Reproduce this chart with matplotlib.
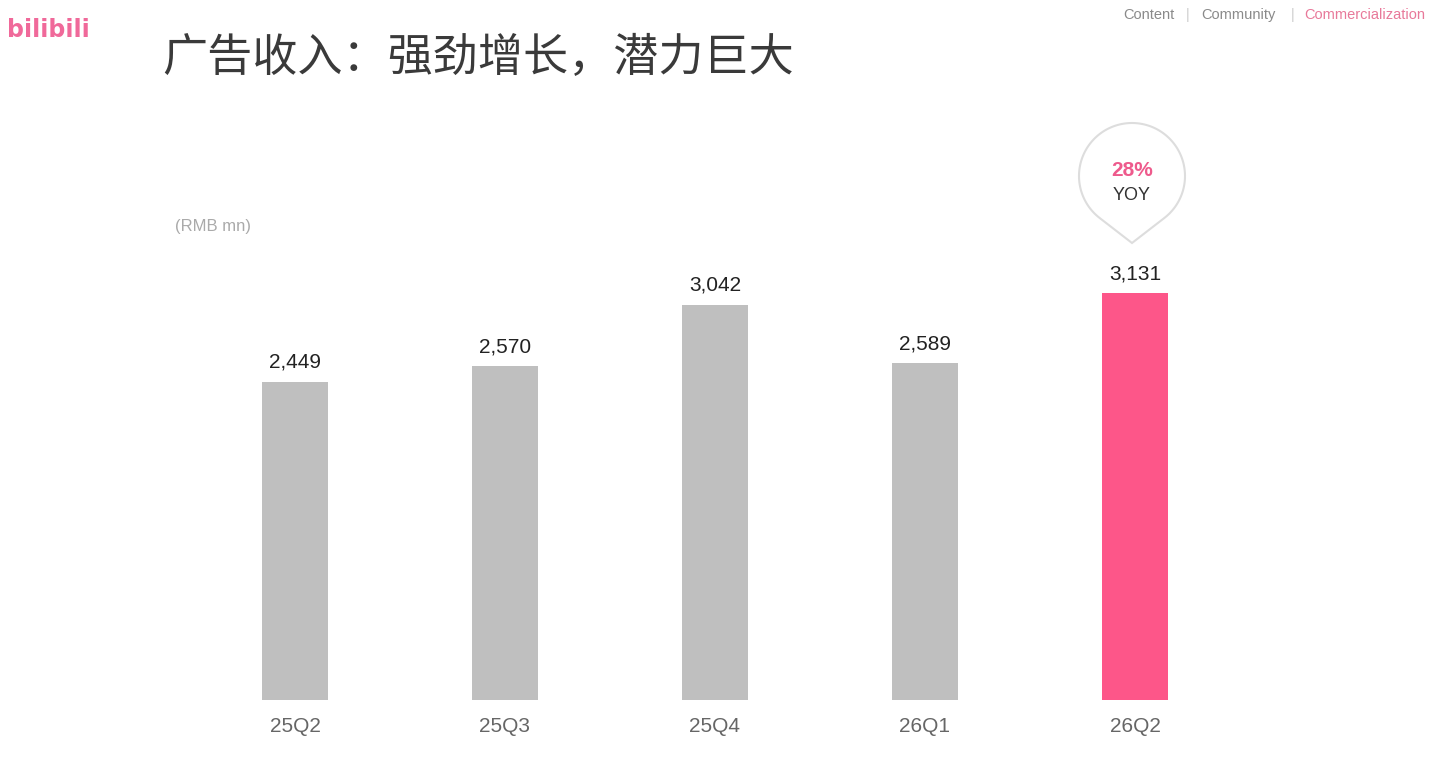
import matplotlib.pyplot as plt
import numpy as np
from matplotlib.patches import Polygon

# data
quarters = ['25Q2', '25Q3', '25Q4', '26Q1', '26Q2']
ad_revenue = [2449, 2570, 3042, 2589, 3131]
yoy_label = '28%'

W, H = 1439, 761
GRAY = '#bfbfbf'
PINK = '#fd5689'

plt.rcParams['font.family'] = ['Liberation Sans', 'Noto Sans CJK SC', 'DejaVu Sans']

fig = plt.figure(figsize=(W / 100, H / 100), dpi=100)
fig.patch.set_facecolor('white')

# chart axes, placed in pixel terms: x 190..1240, y 110..700 (from top)
ax = fig.add_axes([190 / W, 1 - 700 / H, 1050 / W, 590 / H])
colors = [GRAY] * (len(quarters) - 1) + [PINK]
x = np.arange(len(quarters))
ax.bar(x, ad_revenue, width=0.31, color=colors)
ax.set_xlim(-0.5, 4.5)
ax.set_ylim(0, 590 / 0.13)
ax.set_xticks(x)
ax.set_xticklabels(quarters, fontsize=15, color='#666666')
ax.tick_params(axis='x', length=0, pad=12)
ax.set_yticks([])
for s in ax.spines.values():
    s.set_visible(False)

for xi, v in zip(x, ad_revenue):
    ax.annotate(f'{v:,}', (xi, v), xytext=(0, 7), textcoords='offset points',
                ha='center', va='bottom', fontsize=15, color='#222222')

# overlay in pixel coords for decorations
deco = fig.add_axes([0, 0, 1, 1], zorder=5)
deco.set_xlim(0, W)
deco.set_ylim(H, 0)
deco.axis('off')
deco.patch.set_alpha(0)

# logo
deco.text(7, 30, 'bilibili', fontsize=17, fontweight='bold', color='#f0699a',
          ha='left', va='center', family='DejaVu Sans Condensed')

# nav
deco.text(1175, 15, 'Content', fontsize=10.5, color='#8a8a8a', ha='right', va='center')
deco.text(1188, 15, '|', fontsize=10.5, color='#cccccc', ha='center', va='center')
deco.text(1201, 15, 'Community', fontsize=10.5, color='#8a8a8a', ha='left', va='center')
deco.text(1293, 15, '|', fontsize=10.5, color='#cccccc', ha='center', va='center')
deco.text(1304, 15, 'Commercialization', fontsize=10.5, color='#e8799a', ha='left', va='center')

# title
deco.text(162, 58, '广告收入：强劲增长，潜力巨大', fontsize=32.5, color='#3a3a3a',
          ha='left', va='center', family=['Noto Sans CJK SC', 'DejaVu Sans'])

deco.text(175, 226, '(RMB mn)', fontsize=12, color='#aaaaaa', ha='left', va='center')

# YOY bubble
cx, cy, r, tipy = 1132, 176, 53, 243
d = tipy - cy
th = np.arccos(r / d)
a0 = np.pi / 2 - th
a1 = np.pi / 2 + th - 2 * np.pi
ang = np.linspace(a0, a1, 120)
pts = [(cx, tipy)] + [(cx + r * np.cos(a), cy + r * np.sin(a)) for a in ang]
deco.add_patch(Polygon(pts, closed=True, facecolor='white', edgecolor='#dddddd', lw=1.5))
deco.text(cx, 170, yoy_label, fontsize=15, fontweight='bold', color='#ee5a8c',
          ha='center', va='center')
deco.text(cx, 196, 'YOY', fontsize=13, color='#333333', ha='center', va='center')

fig.savefig('out.png', dpi=100)
